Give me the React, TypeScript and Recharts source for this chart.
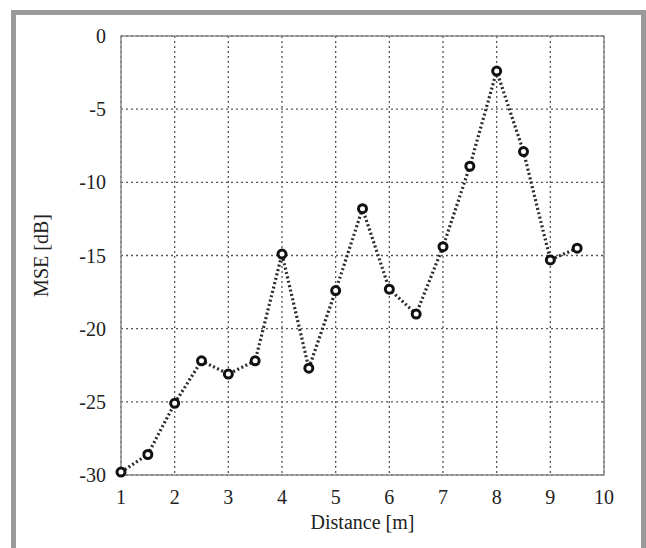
import React from "react";
import {
  LineChart,
  Line,
  XAxis,
  YAxis,
  CartesianGrid,
  ReferenceArea,
} from "recharts";

const distances = [1, 1.5, 2, 2.5, 3, 3.5, 4, 4.5, 5, 5.5, 6, 6.5, 7, 7.5, 8, 8.5, 9, 9.5];
const mseValues = [
  -29.8, -28.6, -25.1, -22.2, -23.1, -22.2, -14.9, -22.7, -17.4, -11.8, -17.3, -19.0,
  -14.4, -8.9, -2.4, -7.9, -15.3, -14.5,
];
const xTicks = [1, 2, 3, 4, 5, 6, 7, 8, 9, 10];
const yTicks = [0, -5, -10, -15, -20, -25, -30];

const chartData = distances.map((d, i) => ({ distance: d, mse: mseValues[i] }));

const font = "'Liberation Serif', 'DejaVu Serif', serif";
const tickStyle = { fontFamily: font, fontSize: 20, fill: "#222" };

export default function App() {
  return (
    <div
      style={{
        position: "absolute",
        left: 0,
        top: 0,
        width: 646,
        height: 548,
        overflow: "hidden",
        background: "#fff",
      }}
    >
      <div
        style={{
          position: "absolute",
          left: 11,
          top: 10,
          width: 635,
          height: 600,
          border: "5px solid #9a9a9a",
          boxSizing: "border-box",
        }}
      />
      <div style={{ position: "absolute", left: 0, top: 0 }}>
        <LineChart
          width={646}
          height={548}
          data={chartData}
          margin={{ top: 36, right: 42, left: 0, bottom: 0 }}
        >
          <CartesianGrid
            stroke="#555"
            strokeDasharray="2 3"
            strokeWidth={1.3}
            horizontalValues={yTicks}
            verticalValues={xTicks}
          />
          <XAxis
            dataKey="distance"
            type="number"
            domain={[1, 10]}
            ticks={xTicks}
            tickLine={false}
            axisLine={false}
            tickMargin={9}
            height={73}
            tick={tickStyle}
            label={{
              value: "Distance [m]",
              position: "insideBottom",
              offset: 19,
              style: { fontFamily: font, fontSize: 20, fill: "#222" },
            }}
          />
          <YAxis
            type="number"
            domain={[-30, 0]}
            ticks={yTicks}
            tickLine={false}
            axisLine={false}
            tickMargin={9}
            width={121}
            tick={tickStyle}
            label={{
              value: "MSE [dB]",
              angle: -90,
              position: "insideLeft",
              offset: 41,
              style: { fontFamily: font, fontSize: 20, fill: "#222", textAnchor: "middle" },
            }}
          />
          <ReferenceArea
            x1={1}
            x2={10}
            y1={-30}
            y2={0}
            fill="none"
            fillOpacity={0}
            stroke="#8a8a8a"
            strokeWidth={1.5}
            ifOverflow="visible"
          />
          <Line
            type="linear"
            dataKey="mse"
            stroke="#2a2a2a"
            strokeWidth={3.2}
            strokeDasharray="2 2.5"
            dot={{ r: 4, stroke: "#111", strokeWidth: 3, fill: "#fff", strokeDasharray: "none" }}
            isAnimationActive={false}
          />
        </LineChart>
      </div>
    </div>
  );
}
